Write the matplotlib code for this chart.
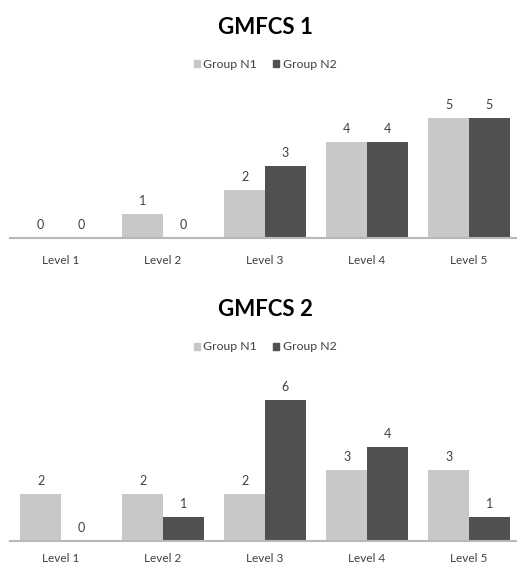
import matplotlib
matplotlib.use("Agg")
import matplotlib.pyplot as plt
import numpy as np
from matplotlib.patches import Patch

levels = ["Level 1", "Level 2", "Level 3", "Level 4", "Level 5"]
series_names = ["Group N1", "Group N2"]
gmfcs1_n1 = [0, 1, 2, 4, 5]
gmfcs1_n2 = [0, 0, 3, 4, 5]
gmfcs2_n1 = [2, 2, 2, 3, 3]
gmfcs2_n2 = [0, 1, 6, 4, 1]
titles = ["GMFCS 1", "GMFCS 2"]

c1 = "#c8c8c8"
c2 = "#505050"
txt = "#404040"
FONT = "Lato"
plt.rcParams['font.family'] = [FONT, "DejaVu Sans"]

W, H = 517, 568
fig = plt.figure(figsize=(W / 100, H / 100), dpi=100)
fig.patch.set_facecolor("white")

panels = [
    (gmfcs1_n1, gmfcs1_n2, titles[0], 94, 238, 6, 27, 64, 12),
    (gmfcs2_n1, gmfcs2_n2, titles[1], 376, 540.7, 7, 310, 347, 9),
]
left_px, right_px = 10, 520
x = np.arange(len(levels))
bw = 0.4
for n1, n2, title, top_px, bot_px, ymax, title_y, leg_y, pad in panels:
    ax = fig.add_axes([left_px / W, 1 - bot_px / H, (right_px - left_px) / W, (bot_px - top_px) / H])
    ax.set_facecolor("none")
    b1 = ax.bar(x - bw / 2, n1, width=bw, color=c1, label=series_names[0])
    b2 = ax.bar(x + bw / 2, n2, width=bw, color=c2, label=series_names[1])
    for bars, vals in ((b1, n1), (b2, n2)):
        for rect, v in zip(bars, vals):
            ax.annotate(str(v), (rect.get_x() + rect.get_width() / 2, v),
                        xytext=(0, 5), textcoords="offset points",
                        ha="center", va="bottom", fontsize=9, color=txt)
    ax.set_xlim(-0.5, 4.5)
    ax.set_ylim(0, ymax)
    ax.set_xticks(x)
    ax.set_xticklabels(levels, fontsize=8.5, color=txt)
    ax.tick_params(axis="x", length=0, pad=pad)
    ax.set_yticks([])
    for s in ("top", "right", "left"):
        ax.spines[s].set_visible(False)
    ax.spines["bottom"].set_color("#b8b8b8")
    ax.spines["bottom"].set_linewidth(1.5)
    cx = ((left_px + right_px) / 2) / W
    fig.text(cx, 1 - title_y / H, title, ha="center", va="center",
             fontsize=16, fontweight="bold", color="black")
    handles = [Patch(color=c1, label=series_names[0]), Patch(color=c2, label=series_names[1])]
    fig.legend(handles=handles, loc="center", bbox_to_anchor=(cx, 1 - leg_y / H),
               ncol=2, frameon=False, fontsize=8.8, handlelength=0.5, handleheight=0.5,
               handletextpad=0.3, columnspacing=1.3, labelcolor=txt)

fig.savefig("out.png", dpi=100, facecolor="white")
